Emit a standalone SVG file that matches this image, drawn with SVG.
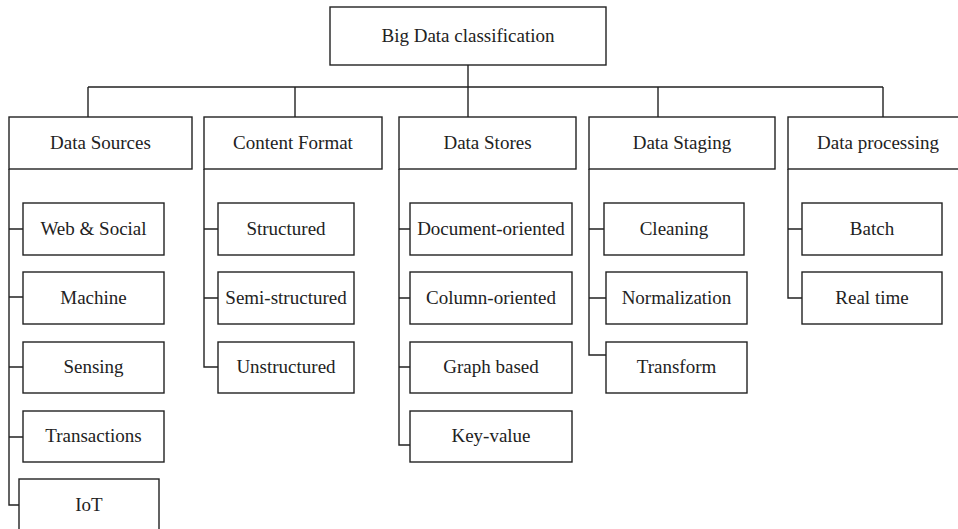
<svg xmlns="http://www.w3.org/2000/svg" width="958" height="529" viewBox="0 0 958 529">
<style>
rect{fill:#fff;stroke:#222;stroke-width:1.4}
.c{fill:none;stroke:#222;stroke-width:1.4}
text{font-family:'Liberation Serif',Tinos,'Times New Roman',Times,'DejaVu Serif',serif;font-size:19px;fill:#222;text-anchor:middle}
</style>
<rect x="0" y="0" width="958" height="529" style="stroke:none"/>
<g id="connectors" class="c">
<path d="M468 65V117M88 87H883M88 87V117M295 87V117M658 87V117M883 87V117"/>
<path d="M9 169V505H19M9 229H23M9 297H23M9 367H23M9 437H23"/>
<path d="M204 169V367H218M204 229H218M204 298H218"/>
<path d="M399 169V445H410M399 229H410M399 298H410M399 367H410"/>
<path d="M589 169V355H606M589 229H604M589 298H606"/>
<path d="M788 169V298H802M788 229H802"/>
</g>
<g font-family="Liberation Serif, Tinos, Times New Roman, serif">
<g id="root"><rect x="330" y="7" width="276" height="58"/><text x="468" y="42">Big Data classification</text></g>
<g id="sources"><rect x="9" y="117" width="183" height="52"/><text x="100.5" y="149">Data Sources</text></g>
<g id="format"><rect x="204" y="117" width="178" height="52"/><text x="293" y="149">Content Format</text></g>
<g id="stores"><rect x="399" y="117" width="177" height="52"/><text x="487.5" y="149">Data Stores</text></g>
<g id="staging"><rect x="589" y="117" width="186" height="52"/><text x="682" y="149">Data Staging</text></g>
<g id="processing"><rect x="788" y="117" width="180" height="52"/><text x="878" y="149">Data processing</text></g>
<g id="web"><rect x="23" y="203" width="141" height="52"/><text x="93.5" y="235">Web &amp; Social</text></g>
<g id="machine"><rect x="23" y="272" width="141" height="52"/><text x="93.5" y="304">Machine</text></g>
<g id="sensing"><rect x="23" y="342" width="141" height="51"/><text x="93.5" y="373">Sensing</text></g>
<g id="transactions"><rect x="23" y="411" width="141" height="51"/><text x="93.5" y="442">Transactions</text></g>
<g id="iot"><rect x="19" y="479" width="140" height="54"/><text x="89" y="511">IoT</text></g>
<g id="structured"><rect x="218" y="203" width="136" height="52"/><text x="286" y="235">Structured</text></g>
<g id="semi"><rect x="218" y="272" width="136" height="52"/><text x="286" y="304">Semi-structured</text></g>
<g id="unstructured"><rect x="218" y="342" width="136" height="51"/><text x="286" y="373">Unstructured</text></g>
<g id="document"><rect x="410" y="203" width="162" height="52"/><text x="491" y="235">Document-oriented</text></g>
<g id="column"><rect x="410" y="272" width="162" height="52"/><text x="491" y="304">Column-oriented</text></g>
<g id="graph"><rect x="410" y="342" width="162" height="51"/><text x="491" y="373">Graph based</text></g>
<g id="keyvalue"><rect x="410" y="411" width="162" height="51"/><text x="491" y="442">Key-value</text></g>
<g id="cleaning"><rect x="604" y="203" width="140" height="52"/><text x="674" y="235">Cleaning</text></g>
<g id="normalization"><rect x="606" y="272" width="141" height="52"/><text x="676.5" y="304">Normalization</text></g>
<g id="transform"><rect x="606" y="342" width="141" height="51"/><text x="676.5" y="373">Transform</text></g>
<g id="batch"><rect x="802" y="203" width="140" height="52"/><text x="872" y="235">Batch</text></g>
<g id="realtime"><rect x="802" y="272" width="140" height="52"/><text x="872" y="304">Real time</text></g>
</g>
</svg>
